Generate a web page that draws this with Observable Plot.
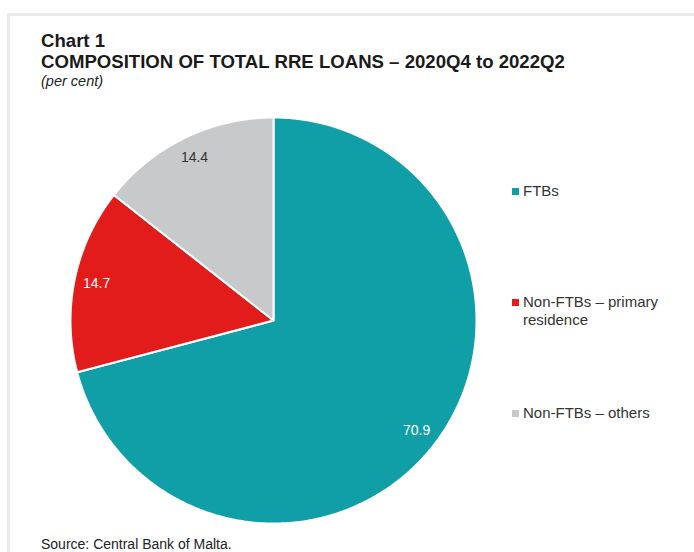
<!DOCTYPE html>
<html>
<head>
<meta charset="utf-8">
<script src="https://cdn.jsdelivr.net/npm/d3@7"></script>
<script src="https://cdn.jsdelivr.net/npm/@observablehq/plot@0.6"></script>
<style>
  html, body { margin: 0; padding: 0; background: #fff; }
  body { font-family: "Liberation Sans", Arial, sans-serif; color: #222; }
  #wrap { position: relative; width: 694px; height: 552px; overflow: hidden; }
  #frameTop { position: absolute; left: 7px; top: 13px; width: 700px; height: 3px; background: #ebebeb; }
  #frameLeft { position: absolute; left: 7px; top: 13px; width: 3px; height: 560px; background: #ebebeb; }
  #title { position: absolute; left: 41px; top: 30px; font-weight: bold; font-size: 18.6px; line-height: 21px; color: #1a1a1a; white-space: nowrap; }
  #sub { position: absolute; left: 41px; top: 73px; font-style: italic; font-size: 14.5px; line-height: 17px; color: #222; }
  #source { position: absolute; left: 41px; top: 536px; font-size: 14px; line-height: 17px; color: #222; }
  #pie { position: absolute; left: 68px; top: 115px; }
  .leg { position: absolute; left: 512px; font-size: 15px; line-height: 18px; color: #333; }
  .leg .sw { position: absolute; left: 0; top: 6px; width: 7px; height: 7px; }
  .leg .tx { position: absolute; left: 11px; top: 0; white-space: nowrap; }
</style>
</head>
<body>
<div id="wrap">
  <div id="frameTop"></div>
  <div id="frameLeft"></div>
  <div id="title">Chart 1<br>COMPOSITION OF TOTAL RRE LOANS – 2020Q4 to 2022Q2</div>
  <div id="sub">(per cent)</div>
  <div id="pie"></div>
  <div id="legend"></div>
  <div id="source">Source: Central Bank of Malta.</div>
</div>
<script>
const categories = ["FTBs", "Non-FTBs – primary residence", "Non-FTBs – others"];
const legendLines = [["FTBs"], ["Non-FTBs – primary", "residence"], ["Non-FTBs – others"]];
const values = [70.9, 14.7, 14.4];
const colors = ["#109fa6", "#e21b1b", "#c8c9cb"];
const labelColors = ["#ffffff", "#ffffff", "#333333"];

const total = d3.sum(values);
const polys = [];
const labels = [];
let cum = 0;
values.forEach((v, i) => {
  const a0 = cum / total * 2 * Math.PI;
  cum += v;
  const a1 = cum / total * 2 * Math.PI;
  polys.push({cat: categories[i], x: 0, y: 0, k: 0});
  const n = Math.max(2, Math.ceil((a1 - a0) / (Math.PI / 360)));
  for (let j = 0; j <= n; j++) {
    const a = a0 + (a1 - a0) * j / n;
    polys.push({cat: categories[i], x: Math.sin(a), y: Math.cos(a), k: j + 1});
  }
  polys.push({cat: categories[i], x: 0, y: 0, k: n + 2});
  const am = (a0 + a1) / 2;
  labels.push({cat: categories[i], text: v.toFixed(1), x: 0.89 * Math.sin(am), y: 0.89 * Math.cos(am), col: labelColors[i]});
});

const chart = Plot.plot({
  width: 410, height: 410, margin: 2,
  x: {domain: [-1, 1], axis: null},
  y: {domain: [-1, 1], axis: null},
  color: {domain: categories, range: colors},
  marks: [
    Plot.line(polys, {x: "x", y: "y", z: "cat", fill: "cat", stroke: "#fff", strokeWidth: 2, strokeLinejoin: "miter", curve: "linear"}),
    Plot.text(labels, {x: "x", y: "y", text: "text", fill: d => d.col, fontSize: 14, fontFamily: "Liberation Sans, Arial, sans-serif"})
  ]
});
chart.style.overflow = "visible";
document.getElementById("pie").appendChild(chart);

const legendTops = [182, 293, 404];
const leg = document.getElementById("legend");
categories.forEach((c, i) => {
  const d = document.createElement("div");
  d.className = "leg";
  d.style.top = legendTops[i] + "px";
  d.innerHTML = `<div class="sw" style="background:${colors[i]}"></div><div class="tx">${legendLines[i].join("<br>")}</div>`;
  leg.appendChild(d);
});
</script>
</body>
</html>
